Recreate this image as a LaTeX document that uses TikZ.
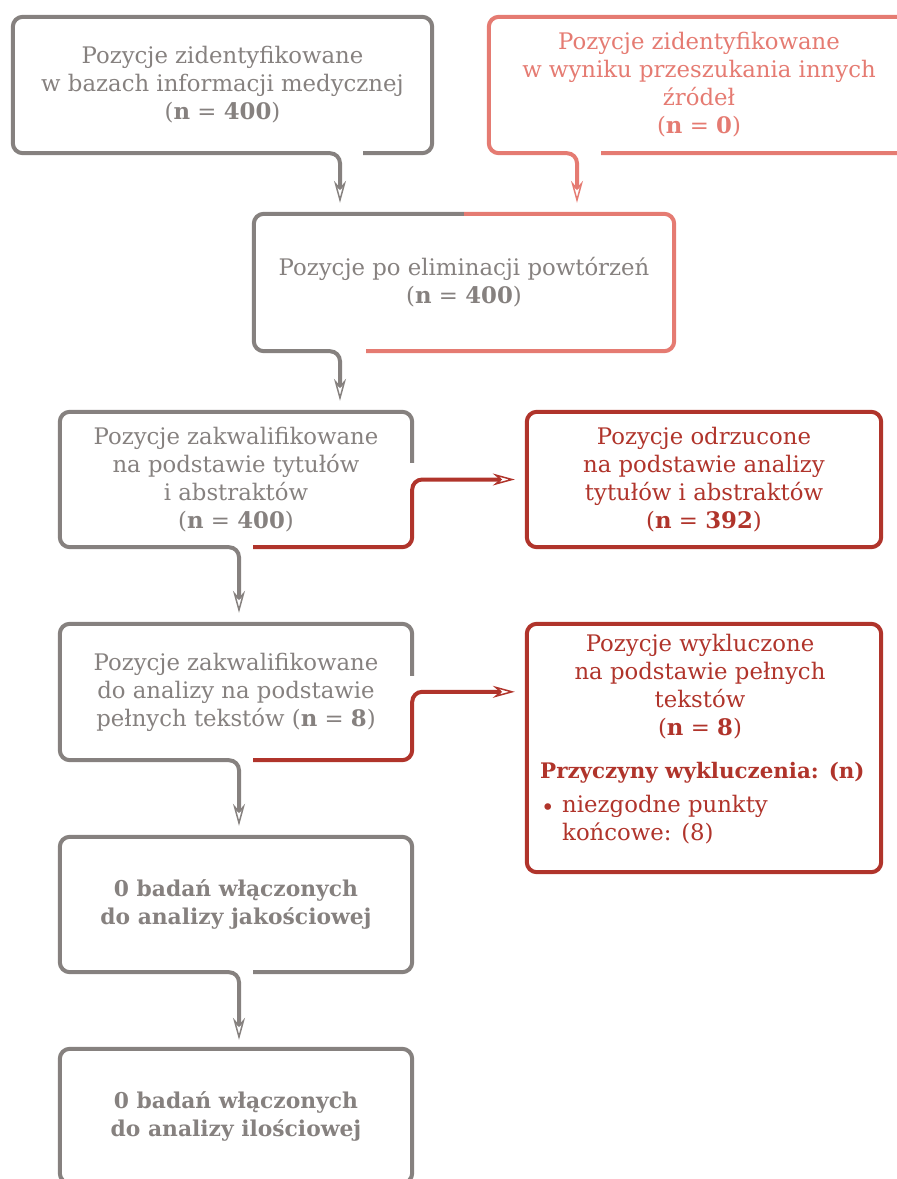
\documentclass[tikz,border=0pt]{standalone}
\usepackage{fontspec}
\setmainfont{DejaVu Serif}
\usetikzlibrary{arrows.meta,calc}
\definecolor{cgray}{RGB}{134,129,127}
\definecolor{csalmon}{RGB}{229,123,114}
\definecolor{cred}{RGB}{176,52,43}
\begin{document}
\begin{tikzpicture}[x=1pt,y=-1pt,
  box/.style={draw=none,rectangle,inner sep=0pt,align=center,font=\fontsize{22.8}{28}\selectfont},
  boldbox/.style={box,font=\fontsize{21.8}{28}\selectfont\bfseries},
  bline/.style={line width=4pt,rounded corners=10pt,line cap=butt},
  tip/.style={-{Stealth[open,length=22pt,width=12pt,inset=7pt,line width=1.5pt]}},
  gl/.style={bline,draw=cgray},
  sl/.style={bline,draw=csalmon},
  rl/.style={bline,draw=cred}]
\useasboundingbox (0,0) rectangle (897,1179);
% nodes
\node[box,text=cgray,minimum width=419,minimum height=136] (b1) at (222.5,85)
  {Pozycje zidentyfikowane\\w bazach informacji medycznej\\(\textbf{n} = \textbf{400})};
\node[box,text=csalmon,minimum width=420,minimum height=136] (b2) at (699,85)
  {Pozycje zidentyfikowane\\w wyniku przeszukania innych\\źródeł\\(\textbf{n} = \textbf{0})};
\node[box,text=cgray,minimum width=420,minimum height=137] (b3) at (464,282.5)
  {Pozycje po eliminacji powtórzeń\\(\textbf{n} = \textbf{400})};
\node[box,text=cgray,minimum width=352,minimum height=135] (b4) at (236,479.5)
  {Pozycje zakwalifikowane\\na podstawie tytułów\\i abstraktów\\(\textbf{n} = \textbf{400})};
\node[box,text=cred,minimum width=354,minimum height=135] (b5) at (704,479.5)
  {Pozycje odrzucone\\na podstawie analizy\\tytułów i abstraktów\\(\textbf{n} = \textbf{392})};
\node[box,text=cgray,minimum width=352,minimum height=136] (b6) at (236,692)
  {Pozycje zakwalifikowane\\do analizy na podstawie\\pełnych tekstów (\textbf{n} = \textbf{8})};
\node[box,minimum width=354,minimum height=248] (b7) at (704,748) {};
\node[box,text=cred,anchor=north] (t7) at (700,634)
  {Pozycje wykluczone\\na podstawie pełnych\\tekstów\\(\textbf{n} = \textbf{8})};
\node[box,text=cred,anchor=west,font=\fontsize{21.4}{28}\selectfont\bfseries] (t7b) at (540,773) {Przyczyny wykluczenia: (n)};
\node[box,text=cred,anchor=west] (t7d) at (541,810) {\textbullet};
\node[box,text=cred,anchor=north west,align=left] (t7c) at (562,795) {niezgodne punkty\\końcowe: (8)};
\node[boldbox,text=cgray,minimum width=352,minimum height=135] (b8) at (236,904.5)
  {0 badań włączonych\\do analizy jakościowej};
\node[boldbox,text=cgray,minimum width=352,minimum height=134] (b9) at (236,1116)
  {0 badań włączonych\\do analizy ilościowej};
% connector columns
\coordinate (a13) at (340,0);
\coordinate (a23) at (577,0);
\coordinate (a34) at (340,0);
\coordinate (a46) at (239,0);
% box 1 border + arrow to b3
\draw[gl,tip] ([xshift=-69pt]b1.south east) -- (b1.south east) -- (b1.north east) -- (b1.north west)
  -- (b1.south west) -- (b1.south -| a13) -- ([yshift=11pt]b3.north -| a13);
% box 2
\draw[sl,tip] ([xshift=-308pt]b2.south east) -- (b2.south east) -- (b2.north east) -- (b2.north west)
  -- (b2.south west) -- (b2.south -| a23) -- ([yshift=11pt]b3.north -| a23);
% box 3
\draw[gl,tip] (b3.north) -- (b3.north west) -- (b3.south west) -- (b3.south -| a34)
  -- ([yshift=11pt]b4.north -| a34);
\draw[sl] (b3.north) -- (b3.north east) -- (b3.south east) -- ([xshift=-98pt]b3.south);
% box 4
\draw[gl,tip] ([yshift=-51pt]b4.north east) -- (b4.north east) -- (b4.north west) -- (b4.south west)
  -- (b4.south -| a46) -- ([yshift=11pt]b6.north -| a46);
\draw[rl,tip] ([xshift=17pt]b4.south) -- (b4.south east) -- (b4.east |- b5.west) -- ([xshift=-12pt]b5.west);
\draw[rl] (b5.north west) rectangle (b5.south east);
% box 6
\draw[gl,tip] ([yshift=-52pt]b6.north east) -- (b6.north east) -- (b6.north west) -- (b6.south west)
  -- (b6.south -| a46) -- ([yshift=11pt]b8.north -| a46);
\draw[rl,tip] ([xshift=17pt]b6.south) -- (b6.south east) -- ([yshift=-68pt]b6.north east)
  -- ([xshift=-12pt,yshift=-68pt]b7.north west);
\draw[rl] (b7.north west) rectangle (b7.south east);
% box 8
\draw[gl,tip] ([xshift=17pt]b8.south) -- (b8.south east) -- (b8.north east) -- (b8.north west)
  -- (b8.south west) -- (b8.south -| a46) -- ([yshift=9pt]b9.north -| a46);
\draw[gl] (b9.north west) rectangle (b9.south east);
\end{tikzpicture}
\end{document}
